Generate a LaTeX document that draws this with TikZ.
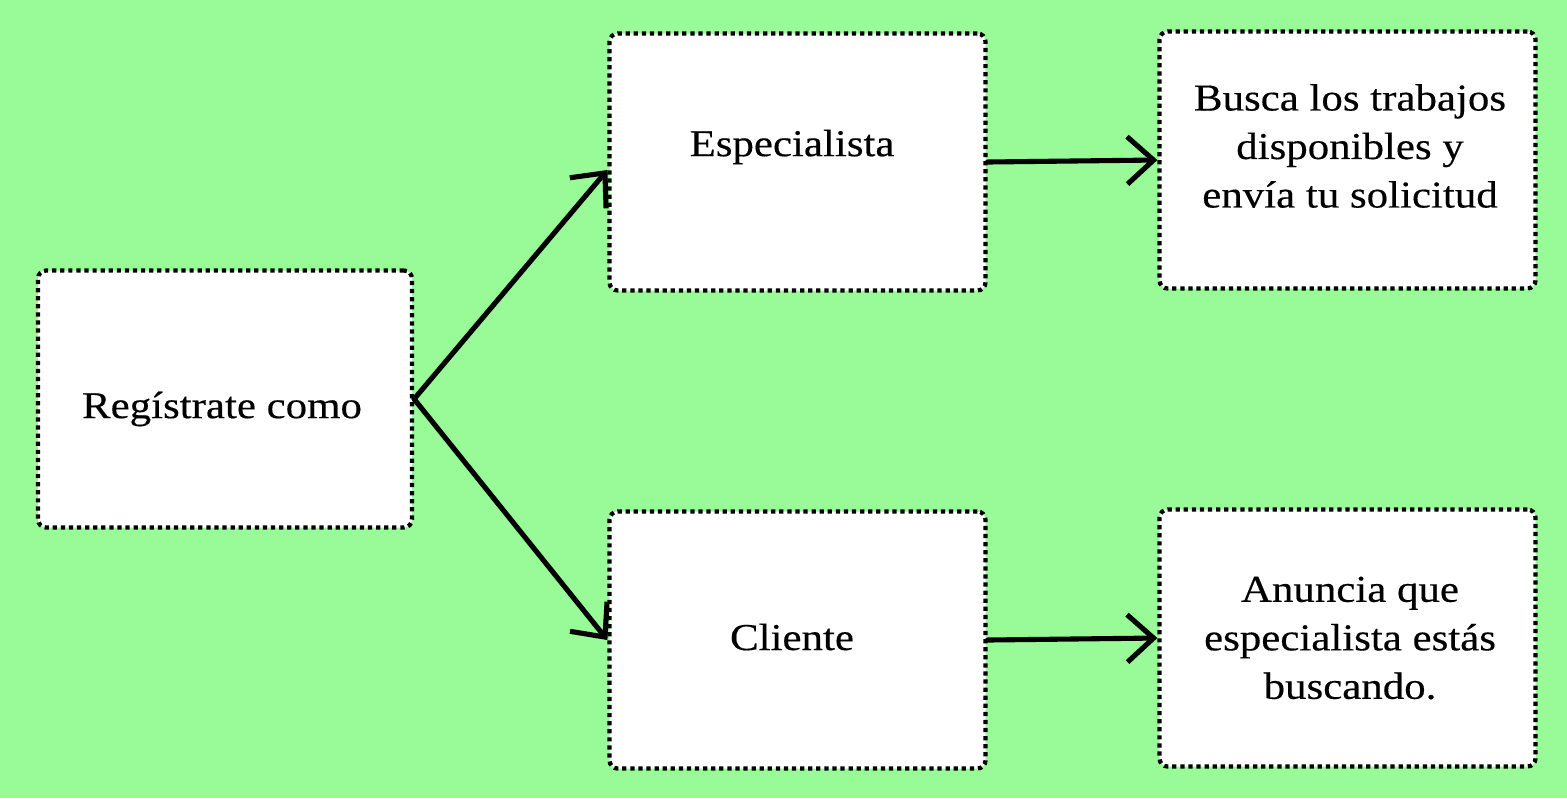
\documentclass[tikz,border=0pt]{standalone}
\usepackage{fontspec}
\setmainfont{Liberation Serif}[FakeStretch=1.13, FakeBold=0.35]
\usetikzlibrary{arrows.meta}
\definecolor{fondo}{RGB}{152,251,152}
\tikzset{
  caja/.style = {draw, fill = white, line width = 1.2pt, dash pattern = on 1.2pt off 1.1pt,
    rounded corners = 2.3pt, minimum width = 37.6mm, minimum height = 25.7mm, inner sep = 0pt},
  texto/.style = {align = center, inner sep = 0pt, font = \fontsize{10.8pt}{13.8pt}\selectfont},
  flecha/.style = {line width = 1.45pt, line cap = round, -{Straight Barb[length = 7.5pt, width = 13.5pt, line width = 1.45pt]}}
}
\begin{document}
\begin{tikzpicture}[x = 0.1mm, y = -0.1mm]
	\fill[fondo] (0, 0) rectangle (1567, 798);
	\useasboundingbox (0, 0) rectangle (1567, 798);
	\node[caja, minimum width = 37.4mm] (registro) at (225, 399) {};
	\node[caja] (especialista) at (797.5, 162) {};
	\node[caja] (busca) at (1347.5, 160) {};
	\node[caja] (cliente) at (797.5, 640) {};
	\node[caja] (anuncia) at (1347.5, 638) {};
	\node[texto] (t-registro) at (222, 409) {Regístrate como};
	\node[texto] (t-especialista) at (792, 147) {Especialista};
	\node[texto] (t-busca) at (1350, 146) {Busca los trabajos\\disponibles y\\envía tu solicitud};
	\node[texto] (t-cliente) at (792, 637) {Cliente};
	\node[texto] (t-anuncia) at (1350, 638) {Anuncia que\\especialista estás\\buscando.};
	\draw[flecha] (registro.east) -- ([yshift = -0.8mm]especialista.west);
	\draw[flecha] (registro.east) -- (cliente.west);
	\draw[flecha] (especialista.east) -- (busca.west);
	\draw[flecha] (cliente.east) -- (anuncia.west);
\end{tikzpicture}
\end{document}
